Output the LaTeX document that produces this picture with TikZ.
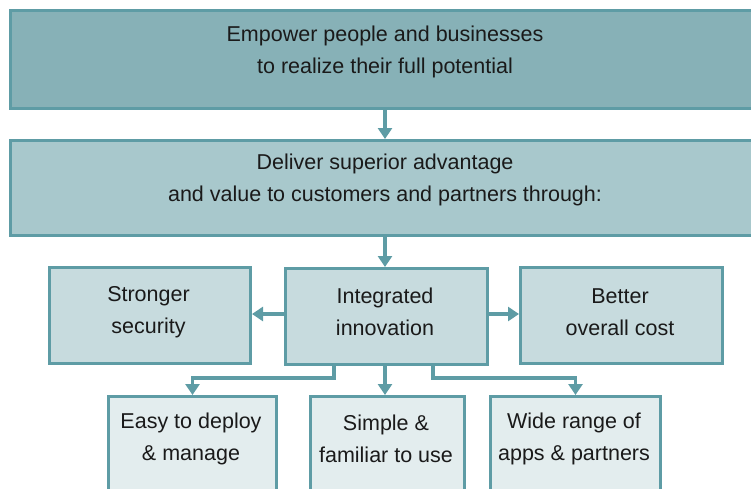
\documentclass[tikz,border=0pt]{standalone}
\usepackage{fontspec}
\setmainfont{Liberation Sans}
\usetikzlibrary{arrows.meta}
\definecolor{edgec}{HTML}{5E9CA5}
\definecolor{fillA}{HTML}{87B1B7}
\definecolor{fillB}{HTML}{A8C8CC}
\definecolor{fillC}{HTML}{C7DBDE}
\definecolor{fillD}{HTML}{E3EDEE}
\definecolor{txtc}{HTML}{1A1A1A}
\tikzset{
  boxbase/.style={draw=edgec, line width=3pt, rectangle, inner sep=0pt, anchor=north west},
  lvlA/.style={boxbase, fill=fillA},
  lvlB/.style={boxbase, fill=fillB},
  lvlC/.style={boxbase, fill=fillC},
  lvlD/.style={boxbase, fill=fillD},
  label/.style={text=txtc, align=center, font=\fontsize{21.5}{32}\selectfont, inner sep=0pt},
  conn/.style={draw=edgec, line width=3.5pt, -{Triangle[length=11pt,width=14pt]}},
}
\begin{document}
\begin{tikzpicture}[x=1pt,y=-1pt]
\useasboundingbox (0,0) rectangle (751,488);
\clip (0,0) rectangle (751,488);
% top
\node[lvlA, minimum width=752pt, minimum height=98pt] (top) at (9,9) {};
\node[label] (topt) at (385,52) {Empower people and businesses\\to realize their full potential};
% second
\node[lvlB, minimum width=752pt, minimum height=95pt] (sec) at (9,139) {};
\node[label] (sect) at (385,180) {Deliver superior advantage\\and value to customers and partners through:};
% middle row
\node[lvlC, minimum width=201pt, minimum height=96pt] (sec1) at (48,266) {};
\node[label] (sec1t) at (148.5,312) {Stronger\\security};
\node[lvlC, minimum width=202pt, minimum height=96pt] (integ) at (284,267) {};
\node[label] (integt) at (385,312) {Integrated\\innovation};
\node[lvlC, minimum width=202pt, minimum height=96pt] (cost) at (519,266) {};
\node[label] (costt) at (620,312) {Better\\overall cost};
% bottom row
\node[lvlD, minimum width=168pt, minimum height=120pt] (easy) at (107,395) {};
\node[label] (easyt) at (191,439) {Easy to deploy\\\& manage};
\node[lvlD, minimum width=154pt, minimum height=120pt] (simple) at (309,395) {};
\node[label] (simplet) at (386,439) {Simple \&\\familiar to use};
\node[lvlD, minimum width=170pt, minimum height=120pt] (wide) at (489,395) {};
\node[label] (widet) at (574,439) {Wide range of\\apps \& partners};
% connectors
\draw[conn] (top.south -| 385,0) -- (sec.north -| 385,0);
\draw[conn] (sec.south -| 385,0) -- (integ.north -| 385,0);
\draw[conn] (integ.west |- 0,314) -- (sec1.east |- 0,314);
\draw[conn] (integ.east |- 0,314) -- (cost.west |- 0,314);
\draw[conn] (integ.south -| 385,0) -- (simple.north -| 385,0);
\coordinate (lk) at (334,378);
\coordinate (rk) at (433,378);
\draw[conn] (integ.south -| lk) -- (lk) -| (easy.north);
\draw[conn] (integ.south -| rk) -- (rk) -| (wide.north);
\end{tikzpicture}
\end{document}
